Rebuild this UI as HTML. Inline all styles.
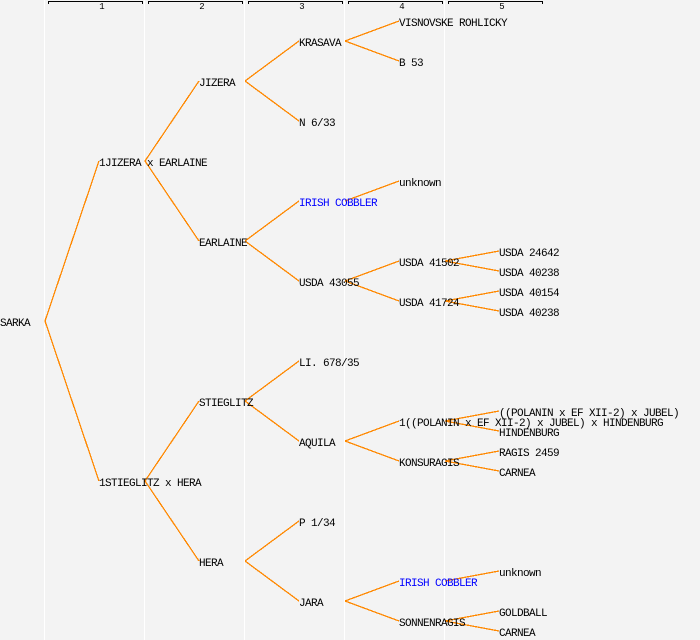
<!DOCTYPE html>
<html>
<head>
<meta charset="utf-8">
<style>
html,body{margin:0;padding:0;background:#f3f3f3;width:700px;height:640px;overflow:hidden}
svg{display:block}
text{font-family:"Liberation Mono",monospace;font-size:11px;letter-spacing:-0.6px;fill:#000}
.b{fill:#0000ff}
.o line{stroke:#ff8800;stroke-width:1.3;shape-rendering:crispEdges}
.w rect{fill:#ffffff}
.k rect{fill:#000}
.n{font-size:9px;letter-spacing:0;text-anchor:middle}
</style>
</head>
<body>
<svg xmlns="http://www.w3.org/2000/svg" width="700" height="640" viewBox="0 0 700 640">
<rect width="700" height="640" fill="#f3f3f3"/>
<g class="w">
<rect x="44" y="0" width="1" height="640"/>
<rect x="144" y="0" width="1" height="640"/>
<rect x="244" y="0" width="1" height="640"/>
<rect x="344" y="0" width="1" height="640"/>
<rect x="444" y="0" width="1" height="640"/>
</g>
<g class="k">
<rect x="48" y="1" width="95" height="1"/><rect x="48" y="1" width="1" height="3"/><rect x="142" y="1" width="1" height="3"/>
<rect x="148" y="1" width="95" height="1"/><rect x="148" y="1" width="1" height="3"/><rect x="242" y="1" width="1" height="3"/>
<rect x="248" y="1" width="95" height="1"/><rect x="248" y="1" width="1" height="3"/><rect x="342" y="1" width="1" height="3"/>
<rect x="348" y="1" width="95" height="1"/><rect x="348" y="1" width="1" height="3"/><rect x="442" y="1" width="1" height="3"/>
<rect x="448" y="1" width="95" height="1"/><rect x="448" y="1" width="1" height="3"/><rect x="542" y="1" width="1" height="3"/>
</g>
<text class="n" x="102" y="9">1</text>
<text class="n" x="202" y="9">2</text>
<text class="n" x="302" y="9">3</text>
<text class="n" x="402" y="9">4</text>
<text class="n" x="502" y="9">5</text>
<g class="o">
<line x1="45" y1="321" x2="99" y2="161"/><line x1="45" y1="321" x2="99" y2="481"/>
<line x1="145" y1="161" x2="199" y2="81"/><line x1="145" y1="161" x2="199" y2="241"/>
<line x1="145" y1="481" x2="199" y2="401"/><line x1="145" y1="481" x2="199" y2="561"/>
<line x1="245" y1="81" x2="299" y2="41"/><line x1="245" y1="81" x2="299" y2="121"/>
<line x1="245" y1="241" x2="299" y2="201"/><line x1="245" y1="241" x2="299" y2="281"/>
<line x1="245" y1="401" x2="299" y2="361"/><line x1="245" y1="401" x2="299" y2="441"/>
<line x1="245" y1="561" x2="299" y2="521"/><line x1="245" y1="561" x2="299" y2="601"/>
<line x1="345" y1="41" x2="399" y2="21"/><line x1="345" y1="41" x2="399" y2="61"/>
<line x1="345" y1="201" x2="399" y2="181"/>
<line x1="345" y1="281" x2="399" y2="261"/><line x1="345" y1="281" x2="399" y2="301"/>
<line x1="345" y1="441" x2="399" y2="421"/><line x1="345" y1="441" x2="399" y2="461"/>
<line x1="345" y1="601" x2="399" y2="581"/><line x1="345" y1="601" x2="399" y2="621"/>
<line x1="445" y1="261" x2="499" y2="251"/><line x1="445" y1="261" x2="499" y2="271"/>
<line x1="445" y1="301" x2="499" y2="291"/><line x1="445" y1="301" x2="499" y2="311"/>
<line x1="445" y1="421" x2="499" y2="411"/><line x1="445" y1="421" x2="499" y2="431"/>
<line x1="445" y1="461" x2="499" y2="451"/><line x1="445" y1="461" x2="499" y2="471"/>
<line x1="445" y1="581" x2="499" y2="571"/>
<line x1="445" y1="621" x2="499" y2="611"/><line x1="445" y1="621" x2="499" y2="631"/>
</g>
<text x="0" y="326">SARKA</text>
<text x="99" y="166">1JIZERA x EARLAINE</text>
<text x="99" y="486">1STIEGLITZ x HERA</text>
<text x="199" y="86">JIZERA</text>
<text x="199" y="246">EARLAINE</text>
<text x="199" y="406">STIEGLITZ</text>
<text x="199" y="566">HERA</text>
<text x="299" y="46">KRASAVA</text>
<text x="299" y="126">N 6/33</text>
<text class="b" x="299" y="206">IRISH COBBLER</text>
<text x="299" y="286">USDA 43055</text>
<text x="299" y="366">LI. 678/35</text>
<text x="299" y="446">AQUILA</text>
<text x="299" y="526">P 1/34</text>
<text x="299" y="606">JARA</text>
<text x="399" y="26">VISNOVSKE ROHLICKY</text>
<text x="399" y="66">B 53</text>
<text x="399" y="186">unknown</text>
<text x="399" y="266">USDA 41502</text>
<text x="399" y="306">USDA 41724</text>
<text x="399" y="426">1((POLANIN x EF XII-2) x JUBEL) x HINDENBURG</text>
<text x="399" y="466">KONSURAGIS</text>
<text class="b" x="399" y="586">IRISH COBBLER</text>
<text x="399" y="626">SONNENRAGIS</text>
<text x="499" y="256">USDA 24642</text>
<text x="499" y="276">USDA 40238</text>
<text x="499" y="296">USDA 40154</text>
<text x="499" y="316">USDA 40238</text>
<text x="499" y="416">((POLANIN x EF XII-2) x JUBEL)</text>
<text x="499" y="436">HINDENBURG</text>
<text x="499" y="456">RAGIS 2459</text>
<text x="499" y="476">CARNEA</text>
<text x="499" y="576">unknown</text>
<text x="499" y="616">GOLDBALL</text>
<text x="499" y="636">CARNEA</text>
</svg>
</body>
</html>
